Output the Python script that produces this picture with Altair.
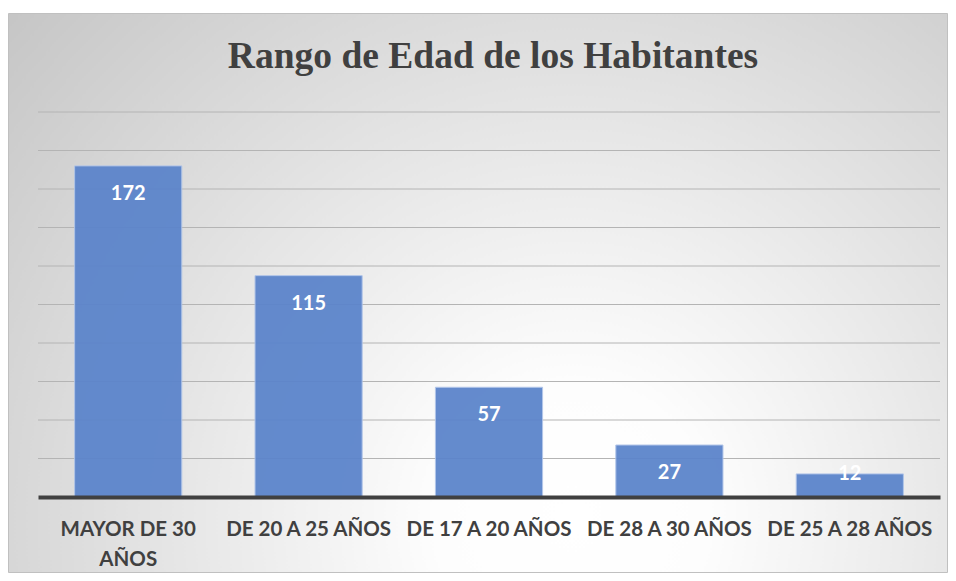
import altair as alt
import pandas as pd

categories = ["MAYOR DE 30 AÑOS", "DE 20 A 25 AÑOS", "DE 17 A 20 AÑOS", "DE 28 A 30 AÑOS", "DE 25 A 28 AÑOS"]
values = [172, 115, 57, 27, 12]
grid_ticks = [20, 40, 60, 80, 100, 120, 140, 160, 180, 200]
title_text = "Rango de Edad de los Habitantes"

df = pd.DataFrame({"rango": categories, "habitantes": values})
grid_df = pd.DataFrame({"tick": grid_ticks})
bg_df = pd.DataFrame({"k": [0]})

W, H = 902, 385

y_scale = alt.Scale(domain=[0, 200], nice=False, zero=True)
x_enc = alt.X(
    "rango:N",
    sort=categories,
    scale=alt.Scale(paddingInner=0.406, paddingOuter=0.203),
    axis=alt.Axis(
        title=None,
        labelAngle=0,
        ticks=False,
        tickSize=0,
        domainColor="#404040",
        domainWidth=4,
        labelFont="Lato",
        labelFontSize=20.5,
        labelFontWeight="bold",
        labelColor="#404040",
        labelPadding=22,
        labelLineHeight=30,
        labelLimit=300,
        labelOverlap=False,
        grid=False,
        zindex=1,
        labelExpr="datum.value == 'MAYOR DE 30 AÑOS' ? ['MAYOR DE 30', 'AÑOS'] : datum.value",
    ),
)

gradient = alt.RadialGradient(
    gradient="radial",
    x1=0.6, y1=0.74, r1=0,
    x2=0.6, y2=0.74, r2=0.8,
    stops=[
        alt.GradientStop(color="#ffffff", offset=0),
        alt.GradientStop(color="#fdfdfd", offset=0.18),
        alt.GradientStop(color="#c6c6c6", offset=1),
    ],
)

bg = alt.Chart(bg_df).mark_rect(
    fill=gradient, stroke="#c0c0c0", strokeWidth=1
).encode(
    x=alt.value(-29.5), x2=alt.value(909.5), y=alt.value(-98.5), y2=alt.value(460.5)
)

grid = alt.Chart(grid_df).mark_rule(color="#b4b4b4", strokeWidth=1).encode(
    y=alt.Y("tick:Q", scale=y_scale, axis=None),
    x=alt.value(0),
    x2=alt.value(W),
)

bars = alt.Chart(df).mark_bar(
    color="#5b84cb", opacity=0.94, stroke="#aec3e8", strokeWidth=1
).encode(
    x=x_enc,
    y=alt.Y("habitantes:Q", scale=y_scale, axis=None),
)

labels = alt.Chart(df).transform_calculate(
    pos="datum.habitantes > 20 ? datum.habitantes - 14.5 : datum.habitantes"
).mark_text(
    font="Lato", fontSize=20, fontWeight="bold", color="white", baseline="middle"
).encode(
    x=x_enc,
    y=alt.Y("pos:Q", scale=y_scale, axis=None),
    text="habitantes:Q",
)

chart = alt.layer(bg, grid, bars, labels).properties(
    width=W,
    height=H,
    title=alt.TitleParams(
        title_text,
        font="Liberation Serif",
        fontSize=37.5,
        fontWeight="bold",
        color="#404040",
        anchor="middle",
        baseline="alphabetic",
        offset=-56,
        dx=4,
        dy=36,
    ),
    padding={"left": 30, "top": 104, "right": 8, "bottom": 76},
    autosize=alt.AutoSizeParams(type="none"),
    background="white",
).configure_view(stroke=None)

chart.save("out.html", embed_options={"renderer": "svg", "actions": False})
